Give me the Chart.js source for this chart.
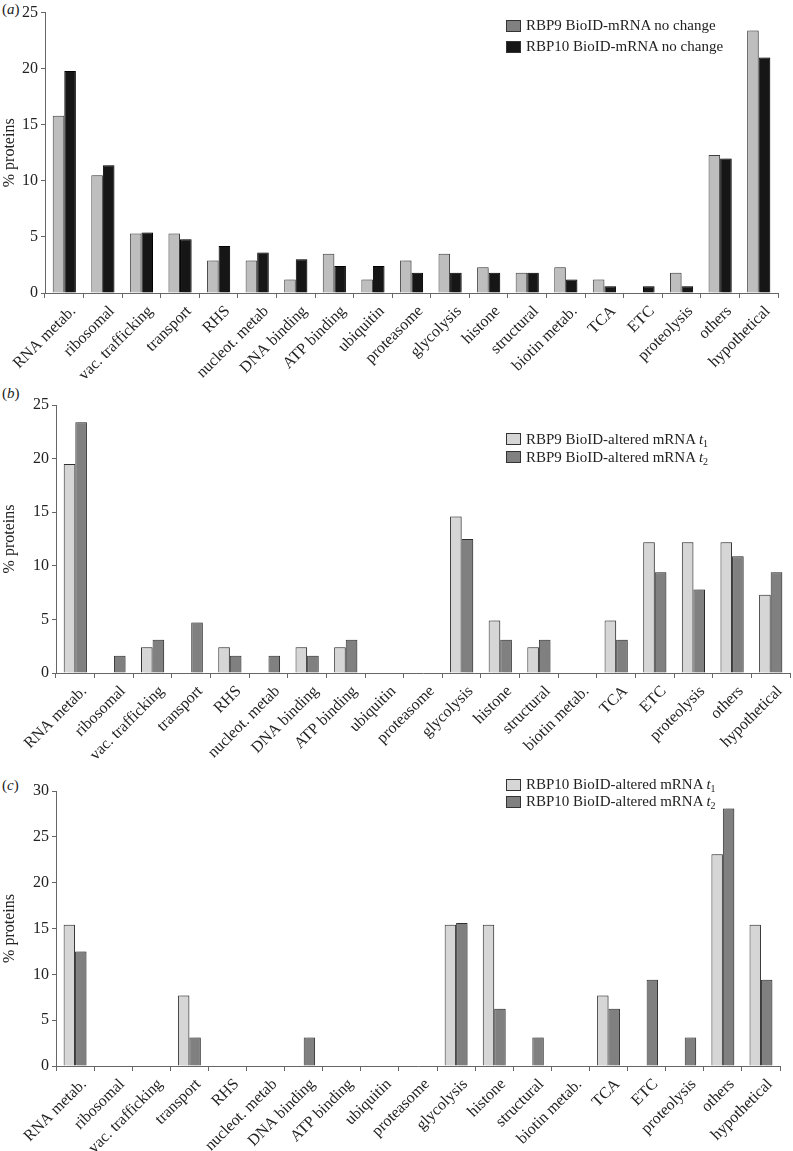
<!DOCTYPE html>
<html>
<head>
<meta charset="utf-8">
<script src="https://cdn.jsdelivr.net/npm/chart.js@4.4.0/dist/chart.umd.min.js"></script>
<style>
body{margin:0;background:#fff;width:793px;height:1151px;position:relative;overflow:hidden;font-family:"Liberation Serif","Times New Roman",serif;color:#222}
canvas{position:absolute;left:0}
.tag{position:absolute;left:2px;font-size:15px;line-height:16px}
.legend{position:absolute;left:506px;font-size:15px}
.legend div{display:flex;align-items:center;white-space:nowrap}
.sw{display:inline-block;width:13px;height:10px;border:1px solid #333;margin-right:5px}
sub{font-size:10px;vertical-align:-3px;line-height:0}
</style>
</head>
<body>
<span class="tag" style="top:1px">(<i>a</i>)</span>
<span class="tag" style="top:385px">(<i>b</i>)</span>
<span class="tag" style="top:777px">(<i>c</i>)</span>
<canvas id="chartA" width="793" height="378" style="top:0"></canvas>
<canvas id="chartB" width="793" height="385" style="top:385px"></canvas>
<canvas id="chartC" width="793" height="381" style="top:770px"></canvas>
<div class="legend" id="legA" style="top:15px;line-height:21px"></div>
<div class="legend" id="legB" style="top:430px;line-height:18px"></div>
<div class="legend" id="legC" style="top:776px;line-height:17px"></div>
<script>
// DATA
const categories = ['RNA metab.', 'ribosomal', 'vac. trafficking', 'transport', 'RHS', 'nucleot. metab',
    'DNA binding', 'ATP binding', 'ubiquitin', 'proteasome', 'glycolysis', 'histone', 'structural',
    'biotin metab.', 'TCA', 'ETC', 'proteolysis', 'others', 'hypothetical'];

// (a) no change
const rbp9NoChange  = [15.8, 10.5, 5.3, 5.3, 2.9, 2.9, 1.2, 3.5, 1.2, 2.9, 3.5, 2.3, 1.8, 2.3, 1.2, 0, 1.8, 12.3, 23.4];
const rbp10NoChange = [19.8, 11.4, 5.4, 4.8, 4.2, 3.6, 3.0, 2.4, 2.4, 1.8, 1.8, 1.8, 1.8, 1.2, 0.6, 0.6, 0.6, 12.0, 21.0];
// (b) RBP9 altered
const rbp9T1 = [19.5, 0, 2.4, 0, 2.4, 0, 2.4, 2.4, 0, 0, 14.6, 4.9, 2.4, 0, 4.9, 12.2, 12.2, 12.2, 7.3];
const rbp9T2 = [23.4, 1.6, 3.1, 4.7, 1.6, 1.6, 1.6, 3.1, 0, 0, 12.5, 3.1, 3.1, 0, 3.1, 9.4, 7.8, 10.9, 9.4];
// (c) RBP10 altered
const rbp10T1 = [15.4, 0, 0, 7.7, 0, 0, 0, 0, 0, 0, 15.4, 15.4, 0, 0, 7.7, 0, 0, 23.1, 15.4];
const rbp10T2 = [12.5, 0, 0, 3.1, 0, 0, 3.1, 0, 0, 0, 15.6, 6.25, 3.1, 0, 6.25, 9.4, 3.1, 28.1, 9.4];

const yMaxA = 25, yMaxB = 25, yMaxC = 30;

const legendA = ['RBP9 BioID-mRNA no change', 'RBP10 BioID-mRNA no change'];
const legendB = ['RBP9 BioID-altered mRNA <i>t</i><sub>1</sub>', 'RBP9 BioID-altered mRNA <i>t</i><sub>2</sub>'];
const legendC = ['RBP10 BioID-altered mRNA <i>t</i><sub>1</sub>', 'RBP10 BioID-altered mRNA <i>t</i><sub>2</sub>'];

// STYLE
const FONT = '"Liberation Serif", "Times New Roman", serif';
const AXIS = '#666';
const TXT = '#222';

const shadow = {
    id: 'shadow',
    beforeDatasetsDraw(chart) {
        const c = chart.ctx;
        c.save();
        c.shadowColor = 'rgba(0,0,0,0.25)';
        c.shadowOffsetX = 2;
        c.shadowOffsetY = 0;
        c.shadowBlur = 3;
    },
    afterDatasetsDraw(chart) { chart.ctx.restore(); }
};

function makeChart(id, sets, yMax, box) {
    return new Chart(document.getElementById(id), {
        type: 'bar',
        data: {
            labels: categories,
            datasets: sets.map(s => ({
                label: s.label,
                data: s.data,
                backgroundColor: s.fill,
                borderColor: s.border,
                borderWidth: 1,
                borderSkipped: 'bottom',
                categoryPercentage: 0.6,
                barPercentage: 1.0
            }))
        },
        options: {
            responsive: false,
            animation: false,
            events: [],
            layout: { padding: { top: box.top, right: box.right, left: 0, bottom: 0 } },
            plugins: { legend: { display: false }, tooltip: { enabled: false } },
            scales: {
                x: {
                    grid: { display: true, drawOnChartArea: false, drawTicks: true, tickLength: 5, color: AXIS, offset: true },
                    border: { color: AXIS },
                    ticks: { autoSkip: false, maxRotation: 45, minRotation: 45, padding: 4, labelOffset: 9, color: TXT, font: { family: FONT, size: 16 } },
                    afterFit: s => { s.height = box.bottom; }
                },
                y: {
                    min: 0, max: yMax,
                    grid: { display: true, drawOnChartArea: false, drawTicks: true, tickLength: 4, color: AXIS },
                    border: { color: AXIS },
                    ticks: { stepSize: 5, padding: 3, color: TXT, font: { family: FONT, size: 16 } },
                    title: { display: true, text: '% proteins', color: TXT, padding: { top: 0, bottom: 0 }, font: { family: FONT, size: 16 } },
                    afterFit: s => { s.width = box.left; }
                }
            }
        },
        plugins: [shadow]
    });
}

function makeLegend(id, names, fills) {
    const el = document.getElementById(id);
    names.forEach((n, i) => {
        const row = document.createElement('div');
        row.innerHTML = '<span class="sw" style="background:' + fills[i] + '"></span><span>' + n + '</span>';
        el.appendChild(row);
    });
}

makeChart('chartA', [
    { label: legendA[0], data: rbp9NoChange, fill: '#bebebe', border: '#444' },
    { label: legendA[1], data: rbp10NoChange, fill: '#161616', border: '#000' }
], yMaxA, { top: 8, right: 15, left: 45, bottom: 85 });

makeChart('chartB', [
    { label: 'RBP9 t1', data: rbp9T1, fill: '#d6d6d6', border: '#333' },
    { label: 'RBP9 t2', data: rbp9T2, fill: '#808080', border: '#333' }
], yMaxB, { top: 20, right: 3, left: 56, bottom: 97 });

makeChart('chartC', [
    { label: 'RBP10 t1', data: rbp10T1, fill: '#d6d6d6', border: '#333' },
    { label: 'RBP10 t2', data: rbp10T2, fill: '#808080', border: '#333' }
], yMaxC, { top: 21, right: 13, left: 56, bottom: 85 });

makeLegend('legA', legendA, ['#808080', '#161616']);
makeLegend('legB', legendB, ['#d6d6d6', '#808080']);
makeLegend('legC', legendC, ['#d6d6d6', '#808080']);
</script>
</body>
</html>
